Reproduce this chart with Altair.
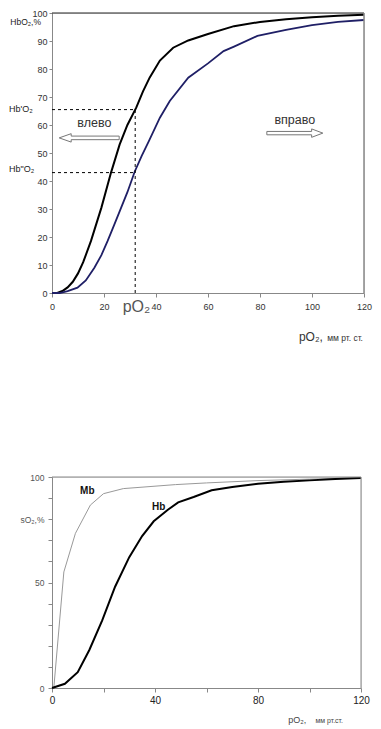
import altair as alt
import pandas as pd

FONT = "Liberation Sans"

# ---------- top chart data ----------
po2_left = [0, 2, 4, 6, 8, 10, 12, 15, 19, 22.7, 26, 29, 32.4, 35, 37.6, 41.5, 46.6, 52.4, 60, 70, 80, 90, 100, 110, 120]
hbo2_left = [0, 0, 0.7, 2, 4, 7, 11, 18.6, 30.5, 43, 53, 60, 66.2, 72, 77, 83, 87.6, 90.2, 92.5, 95.3, 96.8, 97.8, 98.5, 99, 99.4]

po2_right = [0, 3, 6, 9.8, 13, 16.3, 19, 21.4, 24, 26.6, 29, 31.8, 34.5, 37.3, 41.5, 45.3, 52.4, 60, 66, 70, 79, 90, 100, 110, 120]
hbo2_right = [0, 0, 0.7, 1.9, 4.5, 9, 13.5, 18.6, 24.5, 30.5, 36, 43.3, 49, 54.3, 62.6, 68.6, 76.9, 82, 86.4, 88, 91.8, 94, 95.7, 96.8, 97.5]

dash_x = [0, 0, 32]
dash_x2 = [32, 32, 32]
dash_y = [65.5, 43, 0]
dash_y2 = [65.5, 43, 65.5]

top_ticks_x = [0, 20, 40, 60, 80, 100, 120]
top_ticks_y = [0, 10, 20, 30, 40, 50, 60, 70, 80, 90, 100]

# ---------- bottom chart data ----------
po2_hb = [0, 5, 10, 14.5, 19.5, 24.5, 30, 35, 39.5, 45, 49, 55, 62, 70, 80, 90, 100, 110, 120]
so2_hb = [0, 2, 7.5, 18, 32, 48, 62, 72, 79, 84.5, 88, 90.5, 93.7, 95.3, 96.8, 97.7, 98.4, 99, 99.5]

po2_mb = [0.7, 4.6, 9.1, 14.9, 20, 27.7, 48, 60, 80, 100, 120]
so2_mb = [0, 55, 73.3, 86.7, 92.1, 94.5, 96.4, 97.2, 98.3, 99, 99.6]

bot_ticks_x = [0, 20, 40, 60, 80, 100, 120]
bot_ticks_y = [0, 10, 20, 30, 40, 50, 60, 70, 80, 90, 100]

# ---------- top chart ----------
xs1 = alt.Scale(domain=[0, 120], nice=False)
ys1 = alt.Scale(domain=[0, 100], nice=False)

ax_x1 = alt.Axis(values=top_ticks_x, title=None, grid=False, labelFont=FONT, labelFontSize=9,
                 labelColor="#333", domainColor="#888", tickColor="#888", tickSize=4,
                 labelPadding=5, labelFlush=False, labelOverlap=False)
ax_y1 = alt.Axis(values=top_ticks_y, title=None, grid=False, labelFont=FONT, labelFontSize=9,
                 labelColor="#333", domainColor="#888", tickColor="#888", tickSize=3,
                 labelPadding=2, labelFlush=False, labelOverlap=False)
X1 = alt.X("x:Q", scale=xs1, axis=ax_x1)
Y1 = alt.Y("y:Q", scale=ys1, axis=ax_y1)

W1, H1 = 312, 280

curve_l = pd.DataFrame({"x": po2_left, "y": hbo2_left})
curve_r = pd.DataFrame({"x": po2_right, "y": hbo2_right})
dash_df = pd.DataFrame({"x": dash_x, "x2": dash_x2, "y": dash_y, "y2": dash_y2})

line_l = alt.Chart(curve_l).mark_line(color="black", strokeWidth=2).encode(x=X1, y=Y1)
line_r = alt.Chart(curve_r).mark_line(color="#1f1f66", strokeWidth=1.8).encode(x=X1, y=Y1)
dashes = alt.Chart(dash_df).mark_rule(color="black", strokeDash=[3, 3], strokeWidth=1).encode(
    x=X1, x2="x2:Q", y=Y1, y2="y2:Q"
)
frame_top1 = alt.Chart(pd.DataFrame({"y": [100]})).mark_rule(color="#222", strokeWidth=1).encode(y=Y1)
frame_right1 = alt.Chart(pd.DataFrame({"x": [120]})).mark_rule(color="#888", strokeWidth=1.5).encode(x=X1)

# outlined arrows drawn as custom point shapes
left_arrow = "M -1 0 L -0.6 -0.14 L -0.6 -0.06 L 1 -0.06 L 1 0.06 L -0.6 0.06 L -0.6 0.14 Z"
right_arrow = "M 1 0 L 0.6 -0.15 L 0.6 -0.06 L -1 -0.06 L -1 0.06 L 0.6 0.06 L 0.6 0.15 Z"
arrow_l = alt.Chart(pd.DataFrame({"x": [14.3], "y": [55.4]})).mark_point(
    shape=left_arrow, size=3600, filled=False, stroke="#777", strokeWidth=1, opacity=1
).encode(x=X1, y=Y1)
arrow_r = alt.Chart(pd.DataFrame({"x": [93.4], "y": [57.1]})).mark_point(
    shape=right_arrow, size=3136, filled=False, stroke="#777", strokeWidth=1, opacity=1
).encode(x=X1, y=Y1)

words_df = pd.DataFrame({"x": [16.3, 93.4], "y": [60.7, 61.8], "t": ["влево", "вправо"]})
words = alt.Chart(words_df).mark_text(font=FONT, fontSize=12.5, color="#333").encode(
    x=X1, y=Y1, text="t:N"
)

hb_labels_df = pd.DataFrame({"y": [65.7, 44.3], "t": ["Hb'O₂", "Hb\"O₂"]})
hb_labels = alt.Chart(hb_labels_df).mark_text(font=FONT, fontSize=9, color="#222", align="left").encode(
    x=alt.value(-43), y=Y1, text="t:N"
)
y_title1 = alt.Chart(pd.DataFrame({"t": ["HbO₂,%"]})).mark_text(
    font=FONT, fontSize=8.5, color="#222", align="right", baseline="middle"
).encode(x=alt.value(-11), y=alt.value(9), text="t:N")

po2_mark = alt.Chart(pd.DataFrame({"x": [32.5], "t": ["pO₂"]})).mark_text(
    font=FONT, fontSize=16, color="#555", baseline="middle"
).encode(x=X1, y=alt.value(H1 + 14), text="t:N")

x_title1a = alt.Chart(pd.DataFrame({"x": [104.2], "t": ["pO₂,"]})).mark_text(
    font=FONT, fontSize=12, color="#333", align="right", baseline="middle"
).encode(x=X1, y=alt.value(H1 + 44), text="t:N")
x_title1b = alt.Chart(pd.DataFrame({"x": [119.6], "t": ["мм рт. ст."]})).mark_text(
    font=FONT, fontSize=8.5, color="#333", align="right", baseline="middle"
).encode(x=X1, y=alt.value(H1 + 45), text="t:N")

top = alt.layer(
    line_l, line_r, dashes, frame_top1, frame_right1, arrow_l, arrow_r, words,
    hb_labels, y_title1, po2_mark, x_title1a, x_title1b
).properties(width=W1, height=H1)

# ---------- bottom chart ----------
W2, H2 = 309, 211
xs2 = alt.Scale(domain=[0, 120], nice=False)
ys2 = alt.Scale(domain=[0, 100], nice=False)

ax_x2 = alt.Axis(values=bot_ticks_x, title=None, grid=False, labelFont=FONT, labelFontSize=10,
                 labelColor="#222", domainColor="#888", tickColor="#888", tickSize=4,
                 labelPadding=3, labelFlush=False, labelOverlap=False,
                 labelExpr="datum.value % 40 == 0 ? datum.label : ''")
ax_y2 = alt.Axis(values=bot_ticks_y, title=None, grid=False, labelFont=FONT, labelFontSize=8.5,
                 labelColor="#555", domainColor="#888", tickColor="#888", tickSize=4,
                 labelPadding=4, labelFlush=False, labelOverlap=False,
                 labelExpr="datum.value == 80 ? 'sO₂,%' : (datum.value % 50 == 0 ? datum.label : '')")
X2 = alt.X("x:Q", scale=xs2, axis=ax_x2)
Y2 = alt.Y("y:Q", scale=ys2, axis=ax_y2)

hb_df = pd.DataFrame({"x": po2_hb, "y": so2_hb})
mb_df = pd.DataFrame({"x": po2_mb, "y": so2_mb})

hb_line = alt.Chart(hb_df).mark_line(color="black", strokeWidth=2).encode(x=X2, y=Y2)
mb_line = alt.Chart(mb_df).mark_line(color="#999", strokeWidth=1).encode(x=X2, y=Y2)
frame_top2 = alt.Chart(pd.DataFrame({"y": [100]})).mark_rule(color="#888", strokeWidth=1).encode(y=Y2)
frame_right2 = alt.Chart(pd.DataFrame({"x": [120]})).mark_rule(color="#888", strokeWidth=1).encode(x=X2)
names_df = pd.DataFrame({"x": [13.7, 41.4], "y": [93.4, 85.8], "t": ["Mb", "Hb"]})
names = alt.Chart(names_df).mark_text(font=FONT, fontSize=10, fontWeight="bold", color="#111").encode(
    x=X2, y=Y2, text="t:N"
)
x_title2a = alt.Chart(pd.DataFrame({"x": [91.7], "t": ["pO₂,"]})).mark_text(
    font=FONT, fontSize=9, color="#444", align="left", baseline="middle"
).encode(x=X2, y=alt.value(H2 + 32), text="t:N")
x_title2b = alt.Chart(pd.DataFrame({"x": [113], "t": ["мм рт.ст."]})).mark_text(
    font=FONT, fontSize=7, color="#444", align="right", baseline="middle"
).encode(x=X2, y=alt.value(H2 + 33), text="t:N")

bottom = alt.layer(
    mb_line, hb_line, frame_top2, frame_right2, names, x_title2a, x_title2b
).properties(width=W2, height=H2)

chart = alt.vconcat(top, bottom, spacing=128).properties(padding=0).configure_view(
    stroke=None
).configure(font=FONT)

chart.save("out.html", embed_options={"renderer": "svg", "actions": False})
